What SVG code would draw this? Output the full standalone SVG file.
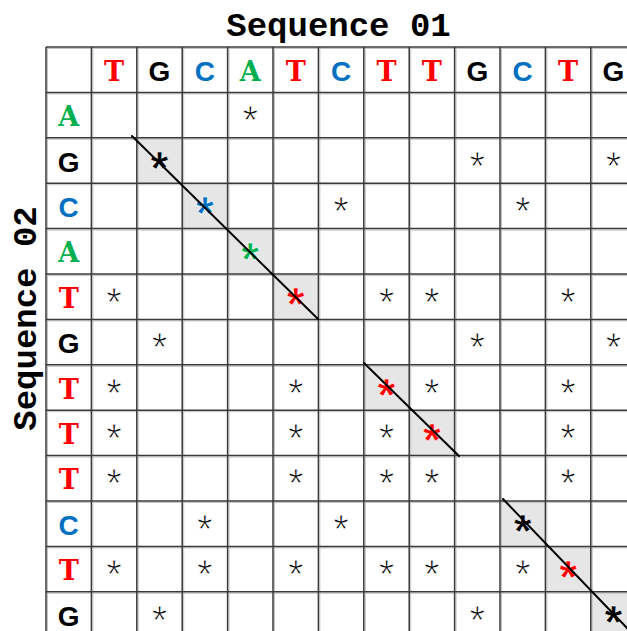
<svg xmlns="http://www.w3.org/2000/svg" width="627" height="631" viewBox="0 0 627 631">
<style>
.title{font-family:"Liberation Mono",monospace;font-weight:bold;font-size:34px;fill:#000}
.ta{font-family:"DejaVu Serif",serif;font-weight:bold;font-size:27px;text-anchor:middle}
.gc{font-family:"Liberation Sans",Arial,sans-serif;font-weight:bold;font-size:28px;text-anchor:middle}
.red{fill:#ff0000}.grn{fill:#00b050}.blu{fill:#0070c0}.blk{fill:#000}
.st{font-family:"Liberation Sans",Arial,sans-serif;font-size:40px;text-anchor:middle;fill:#000;stroke:#fff;stroke-width:0.9}
.bs{font-family:"Liberation Sans",Arial,sans-serif;font-weight:bold;font-size:46px;text-anchor:middle;stroke:#fff;stroke-width:0.6}
.shade{fill:#e6e6e6}
.gl{stroke:#3a3a3a;stroke-width:1.5;fill:none}
.gl2{stroke:#c4c4c4;stroke-width:1;fill:none}
.diag{stroke:#000;stroke-width:2;fill:none;stroke-linecap:round}
</style>
<rect width="627" height="631" fill="#fff"/>
<g id="shading">
<rect class="shade" x="136.8" y="137.8" width="45.4" height="45.4"/>
<rect class="shade" x="182.2" y="183.2" width="45.4" height="45.4"/>
<rect class="shade" x="227.6" y="228.6" width="45.4" height="45.4"/>
<rect class="shade" x="273" y="274" width="45.4" height="45.4"/>
<rect class="shade" x="363.8" y="364.8" width="45.4" height="45.4"/>
<rect class="shade" x="409.2" y="410.2" width="45.4" height="45.4"/>
<rect class="shade" x="500" y="501" width="45.4" height="45.4"/>
<rect class="shade" x="545.4" y="546.4" width="45.4" height="45.4"/>
<rect class="shade" x="590.8" y="591.8" width="45.4" height="45.4"/>
</g>
<g id="grid">
<path class="gl2" d="M47.5 47V631M92.9 47V631M138.3 47V631M183.7 47V631M229.1 47V631M274.5 47V631M319.9 47V631M365.3 47V631M410.7 47V631M456.1 47V631M501.5 47V631M546.9 47V631M592.3 47V631M46 48.5H627M46 93.9H627M46 139.3H627M46 184.7H627M46 230.1H627M46 275.5H627M46 320.9H627M46 366.3H627M46 411.7H627M46 457.1H627M46 502.5H627M46 547.9H627M46 593.3H627"/>
<path class="gl" d="M46 47V631M91.4 47V631M136.8 47V631M182.2 47V631M227.6 47V631M273 47V631M318.4 47V631M363.8 47V631M409.2 47V631M454.6 47V631M500 47V631M545.4 47V631M590.8 47V631M46 47H627M46 92.4H627M46 137.8H627M46 183.2H627M46 228.6H627M46 274H627M46 319.4H627M46 364.8H627M46 410.2H627M46 455.6H627M46 501H627M46 546.4H627M46 591.8H627"/>
</g>
<g id="titles">
<text class="title" x="338.5" y="36" text-anchor="middle">Sequence 01</text>
<text class="title" transform="translate(36,318.5) rotate(-90)" text-anchor="middle">Sequence 02</text>
</g>
<g id="seq01">
<text class="ta red" x="114.1" y="81">T</text>
<text class="gc blk" x="159.5" y="81">G</text>
<text class="gc blu" x="204.9" y="81">C</text>
<text class="ta grn" x="250.3" y="81">A</text>
<text class="ta red" x="295.7" y="81">T</text>
<text class="gc blu" x="341.1" y="81">C</text>
<text class="ta red" x="386.5" y="81">T</text>
<text class="ta red" x="431.9" y="81">T</text>
<text class="gc blk" x="477.3" y="81">G</text>
<text class="gc blu" x="522.7" y="81">C</text>
<text class="ta red" x="568.1" y="81">T</text>
<text class="gc blk" x="613.5" y="81">G</text>
</g>
<g id="seq02">
<text class="ta grn" x="68.7" y="126.1">A</text>
<text class="gc blk" x="68.7" y="171.5">G</text>
<text class="gc blu" x="68.7" y="216.9">C</text>
<text class="ta grn" x="68.7" y="262.3">A</text>
<text class="ta red" x="68.7" y="307.7">T</text>
<text class="gc blk" x="68.7" y="353.1">G</text>
<text class="ta red" x="68.7" y="398.5">T</text>
<text class="ta red" x="68.7" y="443.9">T</text>
<text class="ta red" x="68.7" y="489.3">T</text>
<text class="gc blu" x="68.7" y="534.7">C</text>
<text class="ta red" x="68.7" y="580.1">T</text>
<text class="gc blk" x="68.7" y="625.5">G</text>
</g>
<g id="matches">
<text class="st" x="250.3" y="134.1">*</text>
<text class="st" x="477.3" y="179.5">*</text>
<text class="st" x="613.5" y="179.5">*</text>
<text class="st" x="341.1" y="224.9">*</text>
<text class="st" x="522.7" y="224.9">*</text>
<text class="st" x="114.1" y="315.7">*</text>
<text class="st" x="386.5" y="315.7">*</text>
<text class="st" x="431.9" y="315.7">*</text>
<text class="st" x="568.1" y="315.7">*</text>
<text class="st" x="159.5" y="361.1">*</text>
<text class="st" x="477.3" y="361.1">*</text>
<text class="st" x="613.5" y="361.1">*</text>
<text class="st" x="114.1" y="406.5">*</text>
<text class="st" x="295.7" y="406.5">*</text>
<text class="st" x="431.9" y="406.5">*</text>
<text class="st" x="568.1" y="406.5">*</text>
<text class="st" x="114.1" y="451.9">*</text>
<text class="st" x="295.7" y="451.9">*</text>
<text class="st" x="386.5" y="451.9">*</text>
<text class="st" x="568.1" y="451.9">*</text>
<text class="st" x="114.1" y="497.3">*</text>
<text class="st" x="295.7" y="497.3">*</text>
<text class="st" x="386.5" y="497.3">*</text>
<text class="st" x="431.9" y="497.3">*</text>
<text class="st" x="568.1" y="497.3">*</text>
<text class="st" x="204.9" y="542.7">*</text>
<text class="st" x="341.1" y="542.7">*</text>
<text class="st" x="114.1" y="588.1">*</text>
<text class="st" x="204.9" y="588.1">*</text>
<text class="st" x="295.7" y="588.1">*</text>
<text class="st" x="386.5" y="588.1">*</text>
<text class="st" x="431.9" y="588.1">*</text>
<text class="st" x="522.7" y="588.1">*</text>
<text class="st" x="159.5" y="633.5">*</text>
<text class="st" x="477.3" y="633.5">*</text>
</g>
<g id="diagonal-matches">
<text class="bs blk" x="159.5" y="184">*</text>
<text class="bs blu" x="204.9" y="229.4">*</text>
<text class="bs grn" x="250.3" y="274.8">*</text>
<text class="bs red" x="295.7" y="320.2">*</text>
<text class="bs red" x="386.5" y="411">*</text>
<text class="bs red" x="431.9" y="456.4">*</text>
<text class="bs blk" x="522.7" y="547.2">*</text>
<text class="bs red" x="568.1" y="592.6">*</text>
<text class="bs blk" x="613.5" y="638">*</text>
</g>
<g id="connectors">
<line class="diag" x1="132" y1="136" x2="318" y2="319"/>
<line class="diag" x1="364" y1="363" x2="459" y2="456"/>
<line class="diag" x1="503" y1="499" x2="628" y2="629"/>
</g>
</svg>
